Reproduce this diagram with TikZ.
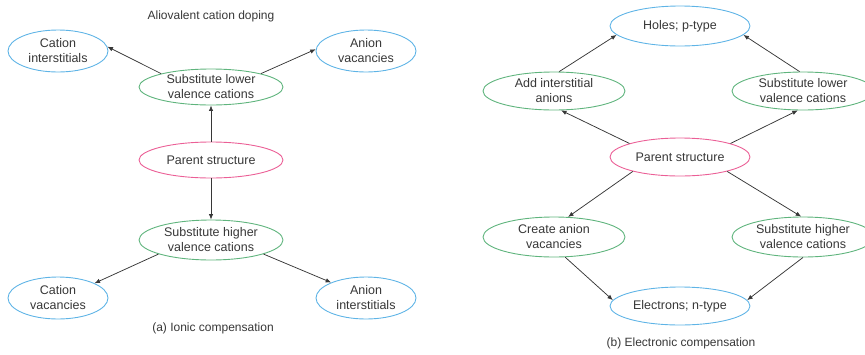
\documentclass[tikz,border=0pt]{standalone}
\usepackage{fontspec}
\setmainfont{Liberation Sans}
\usepackage{xcolor}
\usepackage{tikz}
\usetikzlibrary{shapes.geometric, arrows.meta}

\definecolor{ovalblue}{RGB}{95,180,230}
\definecolor{ovalgreen}{RGB}{95,180,125}
\definecolor{ovalpink}{RGB}{235,95,150}
\definecolor{inkgray}{RGB}{55,55,55}

\begin{document}
\begin{tikzpicture}[
    x=1pt, y=-1pt,
    oval/.style={draw, ellipse, line width=0.9pt, inner sep=0pt, align=center, text=inkgray, font=\fontsize{12.5}{15}\selectfont},
    outcome/.style={oval, draw=ovalblue, minimum width=100pt, minimum height=42pt},
    dopant/.style={oval, draw=ovalgreen, minimum width=144pt, minimum height=36pt},
    host/.style={oval, draw=ovalpink, minimum width=144pt, minimum height=36pt},
    rightout/.style={oval, draw=ovalblue, minimum width=140pt, minimum height=38pt},
    rightdop/.style={oval, draw=ovalgreen, minimum width=142pt, minimum height=38pt},
    caption/.style={text=inkgray, font=\fontsize{12}{14}\selectfont},
    arrow/.style={-{Latex[length=5.5pt,width=4.5pt]}, line width=0.75pt, draw=inkgray}
]
\useasboundingbox (0,0) rectangle (865,354);

% (a) ionic compensation
\node (titleA) [caption] at (211,16) {Aliovalent cation doping};
\node (catint) [outcome] at (58,51) {Cation\\interstitials};
\node (anvac) [outcome] at (366,51) {Anion\\vacancies};
\node (lowA) [dopant] at (211,87) {Substitute lower\\valence cations};
\node (parentA) [host] at (211,160) {Parent structure};
\node (highA) [dopant, minimum height=40pt] at (211,240) {Substitute higher\\valence cations};
\node (catvac) [outcome] at (58,298) {Cation\\vacancies};
\node (anint) [outcome] at (366,298) {Anion\\interstitials};
\node (capA) [caption] at (213,328) {(a) Ionic compensation};

\draw [arrow] (lowA.165) -- (catint.5);
\draw [arrow] (lowA.15) -- (anvac.178);
\draw [arrow] (parentA) -- (lowA);
\draw [arrow] (parentA) -- (highA);
\draw [arrow] (highA.195) -- (catvac.22);
\draw [arrow] (highA.345) -- (anint.156);

% (b) electronic compensation
\node (holes) [rightout, minimum height=40pt] at (680,26) {Holes; p-type};
\node (addint) [rightdop] at (554,91) {Add interstitial\\anions};
\node (lowB) [rightdop] at (803,91) {Substitute lower\\valence cations};
\node (parentB) [host, minimum width=140pt, minimum height=38pt] at (680,157) {Parent structure};
\node (crevac) [rightdop, minimum height=40pt] at (554,237) {Create anion\\vacancies};
\node (highB) [rightdop, minimum height=40pt] at (803,237) {Substitute higher\\valence cations};
\node (electrons) [rightout] at (680,306) {Electrons; n-type};
\node (capB) [caption] at (681,343) {(b) Electronic compensation};

\draw [arrow] (parentB.165) -- (addint.290);
\draw [arrow] (parentB.15) -- (lowB.255);
\draw [arrow] (addint.75) -- (holes.188);
\draw [arrow] (lowB.100) -- (holes.352);
\draw [arrow] (parentB.197) -- (crevac.55);
\draw [arrow] (parentB.343) -- (highB.95);
\draw [arrow] (crevac.299) -- (electrons.175);
\draw [arrow] (highB.270) -- (electrons.5);

\end{tikzpicture}
\end{document}
